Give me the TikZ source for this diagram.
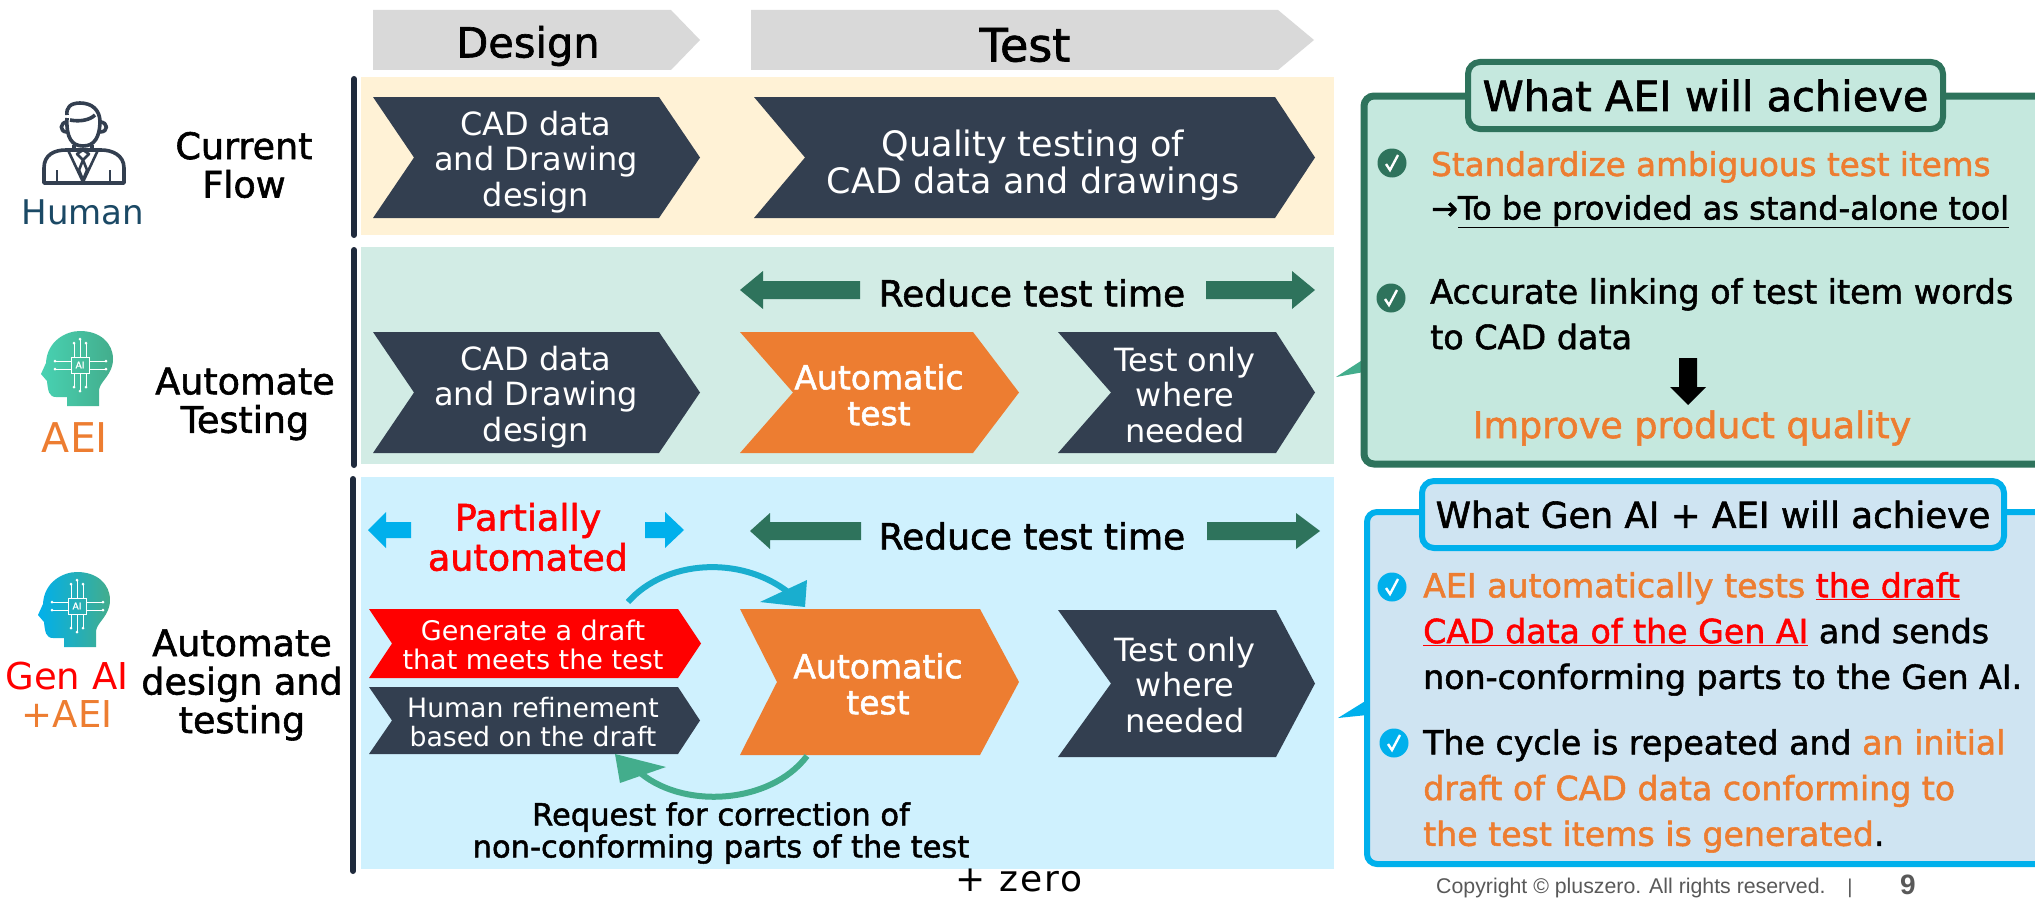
\documentclass[tikz,border=0pt]{standalone}
\usepackage{fontspec}
\usetikzlibrary{calc,positioning}
\setmainfont{DejaVu Sans}
\newfontfamily\medf[FakeBold=1.6]{DejaVu Sans}
\newfontfamily\copyf{Liberation Sans}
\newfontfamily\zerof[LetterSpace=6]{DejaVu Sans}
\definecolor{navy}{HTML}{333F50}
\definecolor{ink}{HTML}{1F2A3C}
\definecolor{orng}{HTML}{ED7D31}
\definecolor{grayarrow}{HTML}{D9D9D9}
\definecolor{darkgreen}{HTML}{2E735C}
\definecolor{midgreen}{HTML}{43AD8C}
\definecolor{lightteal}{HTML}{48D2B2}
\definecolor{skyblue}{HTML}{00B0EC}
\definecolor{cyclecol}{HTML}{19AECF}
\definecolor{bandyellow}{HTML}{FFF2D6}
\definecolor{bandgreen}{HTML}{D2ECE5}
\definecolor{bandblue}{HTML}{CFF1FE}
\definecolor{boxgreen}{HTML}{C5E8DE}
\definecolor{boxblue}{HTML}{CFE4F2}
\definecolor{humanblue}{HTML}{1B4965}
\definecolor{gren}{HTML}{FF0000}
\newcommand{\fs}[2]{\fontsize{#1}{#2}\selectfont}
\newcommand{\chev}[7]{\fill[#7] (#1,#5) -- (#3,#5) -- (#4,{(#5+#6)/2}) -- (#3,#6) -- (#1,#6) -- (#2,{(#5+#6)/2}) -- cycle;}
\newcommand{\harrow}[7]{\fill[#7] (#1,#4-#5) -- (#2,#4-#5) -- (#2,#4-#6) -- (#3,#4) -- (#2,#4+#6) -- (#2,#4+#5) -- (#1,#4+#5) -- cycle;}
\newcommand{\chk}[3]{\fill[#3] (#1,#2) circle[radius=14.5];\draw[white,line width=2.4pt] (#1-6,#2+1) -- (#1-2,#2+7) -- (#1+6,#2-8);}
\newcommand{\aihead}[5]{%
\begin{scope}[shift={(#1,#2)}]
\shade[left color=#3,right color=#4] (27,75) -- (27,66) -- (16,66) .. controls (9,66) and (8,60) .. (7,50) -- (1,43) -- (6,32) .. controls (7,10) and (26,0) .. (40,0) .. controls (60,0) and (73,12) .. (73,28) .. controls (73,44) and (60,50) .. (59,59) -- (59,75) -- cycle;
\draw[white,line width=1pt] (31,26) rectangle (49,42);
\node[text=white,inner sep=0pt] (#5) at (40,34) {\medf\fs{9}{9}AI};
\draw[white,line width=.8pt] (15,30)--(31,30) (15,38)--(31,38) (49,30)--(66,30) (49,38)--(66,38) (34,26)--(34,12) (40,26)--(40,8) (46,26)--(46,12) (34,42)--(34,56) (40,42)--(40,60) (46,42)--(46,56);
\fill[white] (15,30) circle[radius=1.5] (15,38) circle[radius=1.5] (66,30) circle[radius=1.5] (66,38) circle[radius=1.5] (34,12) circle[radius=1.5] (40,8) circle[radius=1.5] (46,12) circle[radius=1.5] (34,56) circle[radius=1.5] (40,60) circle[radius=1.5] (46,56) circle[radius=1.5];
\end{scope}}
\tikzset{
 x=1pt,y=-1pt,
 txt/.style={inner sep=0pt,align=center},
 whitetxt/.style={txt,text=white,font=\fs{32}{35.5}},
 whitebold/.style={txt,text=white,font=\medf\fs{33}{36}},
 head/.style={txt,font=\medf\fs{41.5}{44}},
 rowlabel/.style={txt,font=\medf\fs{36.5}{38.5}},
 who/.style={txt,font=\fs{34}{39}},
 reduce/.style={txt,font=\medf\fs{36}{38}},
 para/.style={inner sep=0pt,align=left,anchor=north west,font=\medf\fs{32.6}{45.5}},
 divider/.style={ink,line width=6pt,line cap=round},
 panel/.style={rounded corners=10pt,line width=7pt},
 tagbox/.style={rounded corners=12pt,line width=6pt},
}
\begin{document}
\begin{tikzpicture}
\useasboundingbox (0,0) rectangle (2035,899);
\clip (0,0) rectangle (2035,899);
\fill[white] (0,0) rectangle (2035,899);
% header arrows
\fill[grayarrow] (373,10) -- (671,10) -- (700,40) -- (671,70) -- (373,70) -- cycle;
\fill[grayarrow] (751,10) -- (1278,10) -- (1314,40) -- (1278,70) -- (751,70) -- cycle;
\node[head] (design) at (528,46) {Design};
\node[head,font=\medf\fs{46}{46}] (test) at (1025,45) {Test};
% bands
\fill[bandyellow] (361,77) rectangle (1334,235);
\fill[bandgreen] (361,247) rectangle (1334,464);
\fill[bandblue] (361,477) rectangle (1334,869);
\coordinate (l1a) at (354,79); \coordinate (l1b) at (354,235);
\coordinate (l2a) at (354,250); \coordinate (l2b) at (354,465);
\coordinate (l3a) at (353,479); \coordinate (l3b) at (353,871);
\draw[divider] (l1a) -- (l1b);
\draw[divider] (l2a) -- (l2b);
\draw[divider] (l3a) -- (l3b);
% row 1
\chev{373}{414}{659}{700}{97}{218}{navy}
\node[whitetxt] (cad1) at (536,162) {CAD data\\and Drawing\\design};
\chev{754}{805}{1275}{1315}{97}{218}{navy}
\node[whitetxt,font=\fs{35}{37}] (qual) at (1033,165) {Quality testing of\\CAD data and drawings};
% row 2
\harrow{860}{763}{740}{290}{9}{19}{darkgreen}
\harrow{1206}{1292}{1315}{290}{9}{19}{darkgreen}
\node[reduce] (red1) at (1032,293) {Reduce test time};
\chev{373}{414}{659}{700}{332}{453}{navy}
\node[whitetxt] (cad2) at (536,397) {CAD data\\and Drawing\\design};
\chev{740}{793}{973}{1019}{332}{453}{orng}
\node[whitebold] (auto1) at (879,395) {Automatic\\test};
\chev{1058}{1111}{1276}{1315}{332}{453}{navy}
\node[whitetxt] (only1) at (1185,395) {Test only\\where\\needed};
% row 3
\harrow{411}{386}{368}{530}{8}{18}{skyblue}
\harrow{645}{665}{684}{530}{8}{18}{skyblue}
\node[txt,text=gren,font=\medf\fs{36.5}{40}] (part) at (528,537) {Partially\\automated};
\harrow{861}{770}{750}{531}{9}{18}{darkgreen}
\harrow{1207}{1296}{1320}{531}{9}{18}{darkgreen}
\node[reduce] (red2) at (1032,536) {Reduce test time};
\chev{369}{392}{678}{701}{609}{678}{gren}
\node[txt,text=white,font=\fs{27}{29}] (gen) at (533,645) {Generate a draft\\that meets the test};
\chev{369}{392}{678}{700}{687}{754}{navy}
\node[txt,text=white,font=\fs{26.7}{29}] (hum) at (533,722) {Human refinement\\based on the draft};
\chev{740}{777}{980}{1019}{609}{755}{orng}
\node[whitebold] (auto2) at (878,684) {Automatic\\test};
\chev{1058}{1111}{1276}{1315}{610}{757}{navy}
\node[whitetxt] (only2) at (1185,685) {Test only\\where\\needed};
% cycle arrows
\coordinate (ts) at (628,602); \coordinate (te) at (788,592);
\draw[cyclecol,line width=6pt] (ts) .. controls (665,560) and (740,555) .. (te);
\fill[cyclecol] (805,607) -- (807,580) -- (760,602) -- cycle;
\coordinate (bs) at (807,756); \coordinate (be) at (637,770);
\draw[midgreen,line width=6pt] (bs) .. controls (770,805) and (680,810) .. (be);
\fill[midgreen] (615,754) -- (666,767) -- (620,783) -- cycle;
\node[txt,font=\medf\fs{30.5}{32}] (req) at (721,833) {Request for correction of\\non-conforming parts of the test};
\node[inner sep=0pt,anchor=base,font=\zerof\fs{36}{36}] (zero) at (1019,891) {+ zero};
% row labels
\node[rowlabel] (cur) at (244,165) {Current\\Flow};
\node[rowlabel] (aut) at (245,404) {Automate\\Testing};
\node[rowlabel] (aud) at (242,685) {Automate\\design and\\testing};
\node[who,text=humanblue] (human) at (83,212) {Human};
\node[who,text=orng,font=\fs{41}{41}] (aei) at (75,438) {AEI};
\node[who,text=gren,font=\fs{37}{39}] (genai) at (67,676) {Gen AI};
\node[who,text=orng,font=\fs{37}{39}] (plusaei) at (67,714) {+AEI};
% person icon
\begin{scope}[draw=navy,line width=3.6pt,line join=round]
\draw (67,118) .. controls (66,138) and (72,146) .. (83,146) .. controls (94,146) and (100,138) .. (100,120);
\draw (67,115) .. controls (66,108) and (70,103) .. (80,103) .. controls (92,103) and (100,110) .. (100,122);
\draw (67,122) .. controls (60,122) and (59,132) .. (67,132);
\draw (100,122) .. controls (108,122) and (109,132) .. (100,132);
\draw (70,120) .. controls (80,122) and (90,120) .. (95,115);
\draw (44,183) -- (124,183) -- (124,168) .. controls (124,155) and (112,150) .. (101,150) -- (66,150) .. controls (54,150) and (44,155) .. (44,168) -- cycle;
\draw[line width=2.6pt] (68,150) -- (83,182) -- (98,150);
\draw[line width=2.6pt] (77,154) -- (83,160) -- (89,154) -- (83,150) -- cycle (83,160) -- (79,170) -- (83,180) -- (87,170) -- cycle;
\draw[line width=2.6pt] (57,170) -- (57,183) (110,170) -- (110,183);
\draw (74,145) -- (74,150) (92,145) -- (92,150);
\end{scope}
% AI heads
\aihead{40}{331}{lightteal}{midgreen}{aichip}
\aihead{37}{572}{skyblue}{midgreen}{genchip}
% green panel
\fill[midgreen] (1336,377) -- (1364,359) -- (1364,372) -- cycle;
\draw[panel,darkgreen,fill=boxgreen] (1364,96) rectangle (2060,464);
\node[tagbox,draw=darkgreen,fill=boxgreen,minimum width=475,minimum height=67,inner sep=0pt,font=\medf\fs{41.5}{44}] (aeititle) at (1705.5,95.5) {What AEI will achieve};
\chk{1392}{163}{darkgreen}
\chk{1391}{298}{darkgreen}
\node[para,text=orng] (p1) at (1431,151) {Standardize ambiguous test items};
\node[para,font=\medf\fs{32}{45.5}] (p1b) at (1431,195) {→\underline{To be provided as stand-alone tool}};
\node[para,font=\medf\fs{33.4}{45.5}] (p2) at (1430,278) {Accurate linking of test item words\\to CAD data};
\fill[black] (1679,358) -- (1697,358) -- (1697,387) -- (1706,387) -- (1688,405) -- (1670,387) -- (1679,387) -- cycle;
\node[txt,text=orng,font=\medf\fs{36.5}{38}] (imp) at (1692,428) {Improve product quality};
% blue panel
\fill[skyblue] (1338,718) -- (1367,700) -- (1367,715) -- cycle;
\draw[panel,line width=6pt,skyblue,fill=boxblue] (1367,512) rectangle (2060,864);
\node[tagbox,draw=skyblue,fill=boxblue,minimum width=582,minimum height=67,inner sep=0pt,font=\medf\fs{35.7}{38}] (gaititle) at (1713,514.5) {What Gen AI + AEI will achieve};
\chk{1392}{587}{skyblue}
\chk{1394}{743}{skyblue}
\node[para,font=\medf\fs{33.2}{45.7}] (q1) at (1423,572) {{\color{orng}AEI automatically tests} {\color{gren}\underline{the draft}}\\{\color{gren}\underline{CAD data of the Gen AI}} and sends\\non-conforming parts to the Gen AI.};
\node[para,font=\medf\fs{33.2}{45.7}] (q2) at (1423,729) {The cycle is repeated and {\color{orng}an initial}\\{\color{orng}draft of CAD data conforming to}\\{\color{orng}the test items is generated}.};
% footer
\node[inner sep=0pt,text=black!65,font=\copyf\fs{21.3}{22},anchor=west] (copy) at (1436,888) {Copyright © pluszero. All rights reserved.};
\node[inner sep=0pt,text=black!65,font=\copyf\fs{20}{22}] (bar) at (1850,888) {|};
\node[inner sep=0pt,text=black!65,font=\copyf\bfseries\fs{28}{28}] (page) at (1908,885) {9};
\end{tikzpicture}
\end{document}
